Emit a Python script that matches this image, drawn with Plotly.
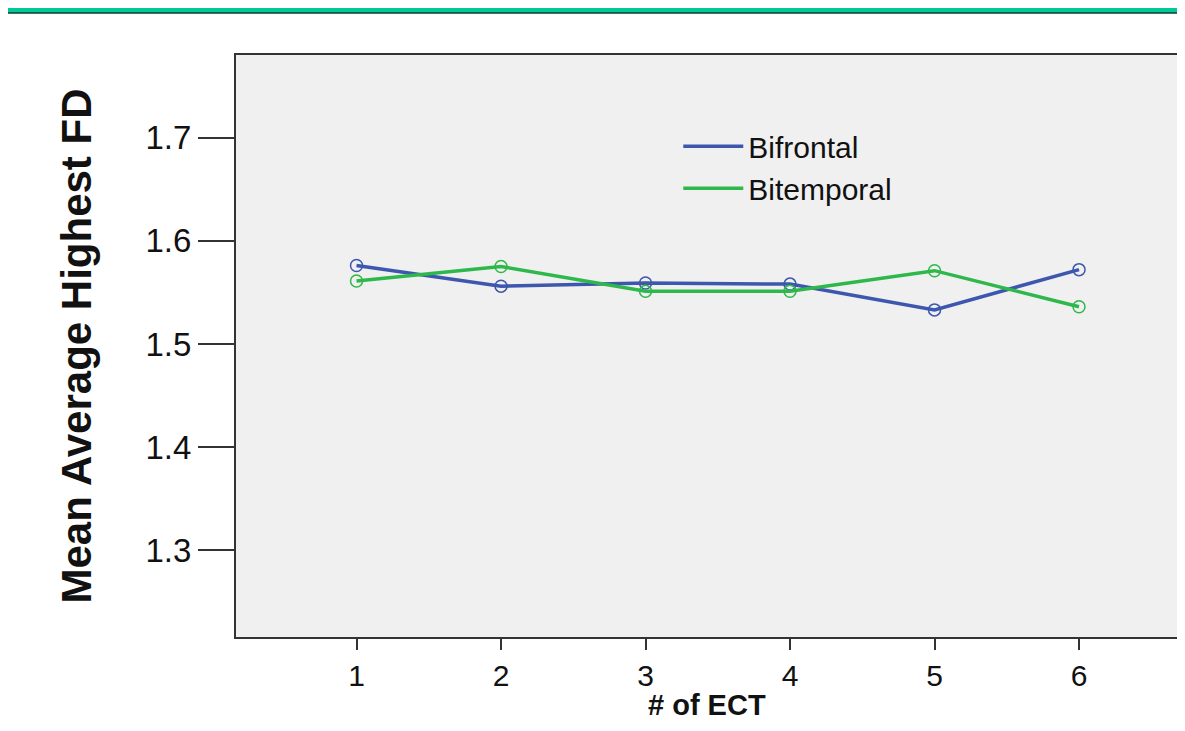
import plotly.graph_objects as go

ect_sessions = [1, 2, 3, 4, 5, 6]
bifrontal = [1.576, 1.556, 1.559, 1.558, 1.533, 1.572]
bitemporal = [1.561, 1.575, 1.551, 1.551, 1.571, 1.536]
series_names = ["Bifrontal", "Bitemporal"]
y_ticks = [1.3, 1.4, 1.5, 1.6, 1.7]
x_ticks = [1, 2, 3, 4, 5, 6]
x_title = "# of ECT"
y_title = "Mean Average Highest FD"

blue = "#3D56AE"
green = "#2EB84B"

fig = go.Figure()
for name, vals, col in [(series_names[0], bifrontal, blue), (series_names[1], bitemporal, green)]:
    fig.add_trace(go.Scatter(
        x=ect_sessions, y=vals, mode="lines+markers", name=name,
        line=dict(color=col, width=3.5),
        marker=dict(symbol="circle-open", size=12, color=col, line=dict(width=1.5, color=col)),
        showlegend=False,
    ))
    fig.add_trace(go.Scatter(
        x=[None], y=[None], mode="lines", name=name,
        line=dict(color=col, width=3.5), showlegend=True,
    ))

W, H = 1169, 715
T, B = 47, 86
ph = H - T - B

fig.add_shape(type="rect", xref="paper", yref="paper",
              x0=-0.3, x1=1.05, y0=(ph + T - 5) / ph, y1=(ph + T + 2) / ph,
              fillcolor="#00C896", line=dict(width=0), layer="above")
fig.add_shape(type="line", xref="paper", yref="paper",
              x0=-0.3, x1=1.05, y0=(ph + T - 5) / ph, y1=(ph + T - 5) / ph,
              line=dict(color="#0B3D2E", width=1.5))

fig.add_annotation(
    text=f"<b>{x_title}</b>", xref="paper", yref="paper",
    x=0.5, y=-0.0875, xanchor="center", yanchor="top", showarrow=False,
    font=dict(size=29, color="#111111"), borderpad=0,
)

fig.update_layout(
    width=W, height=H,
    margin=dict(l=228, r=0, t=T, b=B, autoexpand=False),
    paper_bgcolor="white",
    plot_bgcolor="#F0F0F0",
    font=dict(family="Liberation Sans, Arial, sans-serif", color="#111111"),
    legend=dict(
        x=0.47, y=0.888, xanchor="left", yanchor="top",
        bgcolor="rgba(0,0,0,0)", font=dict(size=30, color="#111111"),
        tracegroupgap=0, itemwidth=60,
    ),
    xaxis=dict(
        range=[0.166, 6.678], tickvals=x_ticks, ticktext=[str(v) for v in x_ticks],
        showgrid=False, zeroline=False, automargin=False,
        showline=True, linecolor="#333333", linewidth=2, mirror=True,
        ticks="outside", ticklen=11, tickwidth=2, tickcolor="#333333",
        tickfont=dict(size=30),
    ),
    yaxis=dict(
        range=[1.216, 1.78], tickvals=y_ticks, ticktext=[f"{v:.1f}" for v in y_ticks],
        showgrid=False, zeroline=False, automargin=False,
        showline=True, linecolor="#333333", linewidth=2,
        ticks="outside", ticklen=36, tickwidth=1.5, tickcolor="#333333",
        tickfont=dict(size=33),
        title=dict(text=f"<b>{y_title}</b>", font=dict(size=42), standoff=41),
    ),
)

fig.write_html("out.html")
